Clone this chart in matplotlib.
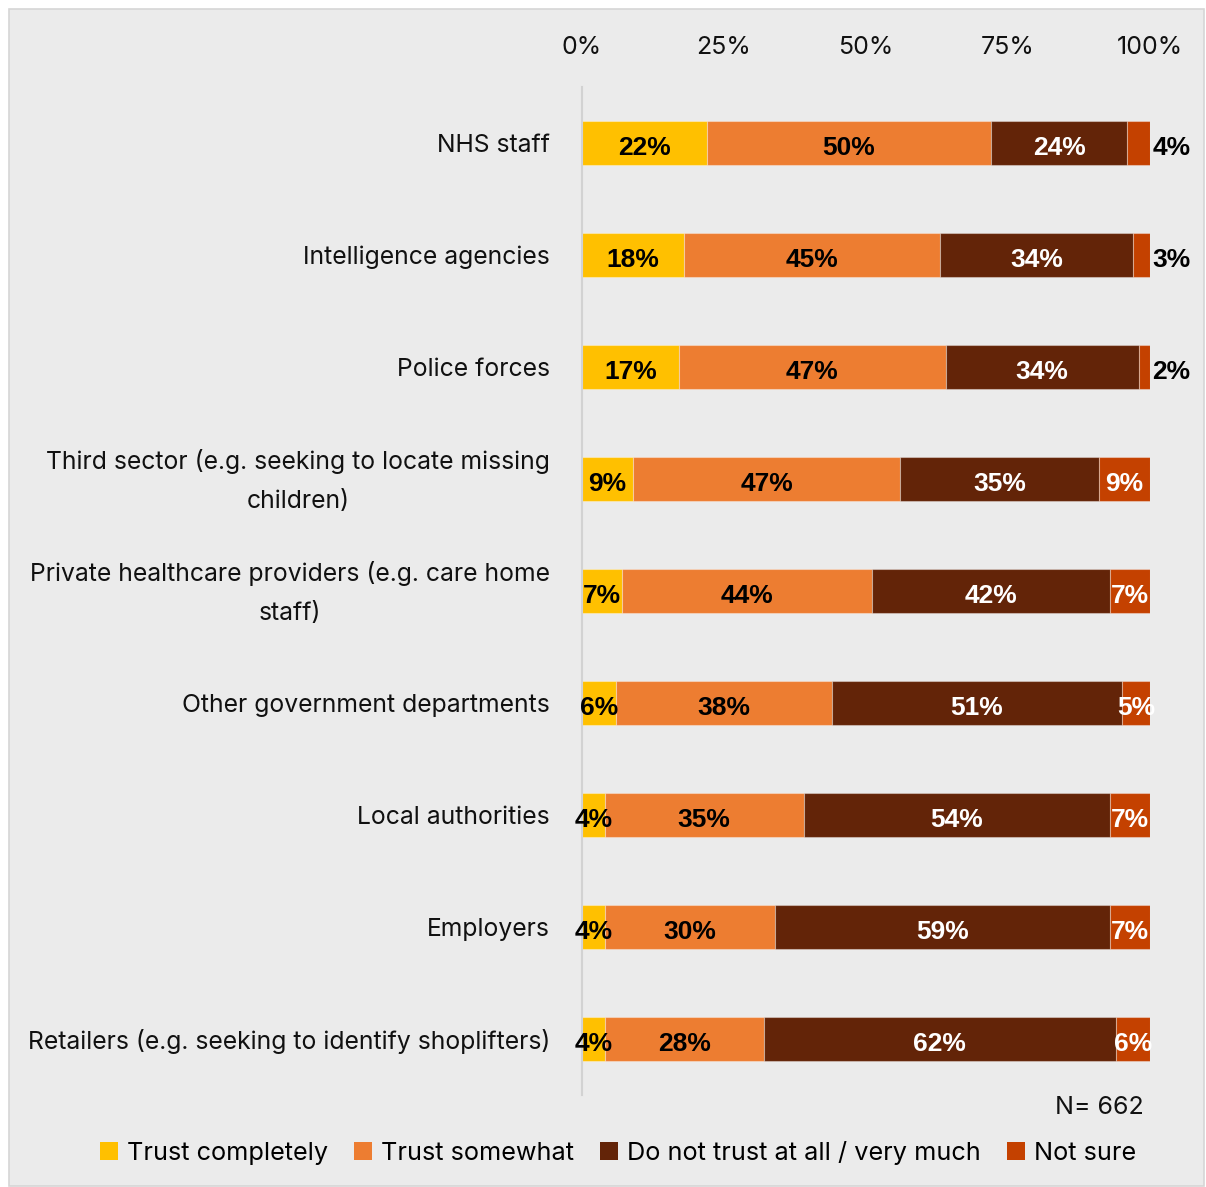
import matplotlib
matplotlib.use("Agg")
import matplotlib.pyplot as plt
from matplotlib.patches import Rectangle

# Survey data: trust in organisations to use data responsibly
categories = [
    "NHS staff",
    "Intelligence agencies",
    "Police forces",
    "Third sector (e.g. seeking to locate missing\nchildren)",
    "Private healthcare providers (e.g. care home\nstaff)",
    "Other government departments",
    "Local authorities",
    "Employers",
    "Retailers (e.g. seeking to identify shoplifters)",
]
trust_completely = [22, 18, 17, 9, 7, 6, 4, 4, 4]
trust_somewhat = [50, 45, 47, 47, 44, 38, 35, 30, 28]
do_not_trust = [24, 34, 34, 35, 42, 51, 54, 59, 62]
not_sure = [4, 3, 2, 9, 7, 5, 7, 7, 6]

series_names = ["Trust completely", "Trust somewhat",
                "Do not trust at all / very much", "Not sure"]
series_values = [trust_completely, trust_somewhat, do_not_trust, not_sure]
colors = ["#FFC000", "#ED7D31", "#632408", "#C44100"]
label_colors = ["black", "black", "white", "white"]

x_ticks = [0, 25, 50, 75, 100]
x_tick_labels = ["0%", "25%", "50%", "75%", "100%"]
sample_note = "N= 662"

W, H = 1206, 1187
fig = plt.figure(figsize=(W / 100, H / 100), dpi=100)
fig.patch.set_facecolor("white")

# grey panel behind everything
panel = Rectangle((9 / W, 1 - 1186 / H), (1204 - 9) / W, (1186 - 9) / H,
                  transform=fig.transFigure, facecolor="#EBEBEB",
                  edgecolor="#D6D6D6", linewidth=1.2, zorder=-5)
fig.patches.append(panel)

ax = fig.add_axes([582 / W, 1 - 1095 / H, (1150 - 582) / W, (1095 - 87) / H])
ax.set_facecolor("none")

label_font = "Inter"
value_font = "Liberation Sans"
value_size = 19

ypos = list(range(len(categories)))
left = [0] * len(categories)
for name, vals, col, lcol in zip(series_names, series_values, colors, label_colors):
    ax.barh(ypos, vals, left=left, height=0.4, color=col,
            edgecolor=(1, 1, 1, 0.35), linewidth=0.8, label=name, zorder=2)
    for i, (v, l) in enumerate(zip(vals, left)):
        if name == "Not sure" and v <= 4:
            ax.text(l + v + 0.4, i + 0.02, f"{v}%", ha="left", va="center_baseline",
                    fontsize=value_size, fontweight="bold", color="black",
                    family=value_font, zorder=3)
        else:
            ax.text(l + v / 2, i + 0.02, f"{v}%", ha="center", va="center_baseline",
                    fontsize=value_size, fontweight="bold", color=lcol,
                    family=value_font, zorder=3)
    left = [a + b for a, b in zip(left, vals)]

ax.set_xlim(0, 100)
ax.set_ylim(len(categories) - 0.5, -0.5)

# category names, drawn left of the axis
ax.set_yticks(ypos)
ax.set_yticklabels([])
ax.tick_params(axis="y", length=0)
ytrans = ax.get_yaxis_transform()
for i, cat in enumerate(categories):
    wrapped = "\n" in cat
    ax.text(-32 / 568, i + (0.02 if wrapped else 0.0), cat, transform=ytrans,
            ha="right", va="center" if wrapped else "center_baseline",
            multialignment="center", fontsize=17.8, family=label_font,
            color="#111111", linespacing=1.9)

ax.xaxis.tick_top()
ax.set_xticks(x_ticks)
ax.set_xticklabels(x_tick_labels, fontsize=18, family=label_font, color="#111111")
ax.tick_params(axis="x", length=0, pad=20)

for s in ["top", "right", "bottom"]:
    ax.spines[s].set_visible(False)
ax.spines["left"].set_color("#D2D2D2")
ax.spines["left"].set_linewidth(1.5)

fig.text(1144 / W, 1 - 1107 / H, sample_note, ha="right", va="center",
         fontsize=18, family=label_font, color="#111111")

handles, labels = ax.get_legend_handles_labels()
leg = fig.legend(handles, labels, loc="center", bbox_to_anchor=(618 / W, 1 - 1153 / H),
                 ncol=4, frameon=False, handlelength=0.7,
                 handleheight=0.7, handletextpad=0.35, columnspacing=1.05,
                 prop={"family": label_font, "size": 18.2})
for h in leg.legend_handles:
    h.set_edgecolor("none")

fig.savefig("out.png", dpi=100, facecolor="white")
